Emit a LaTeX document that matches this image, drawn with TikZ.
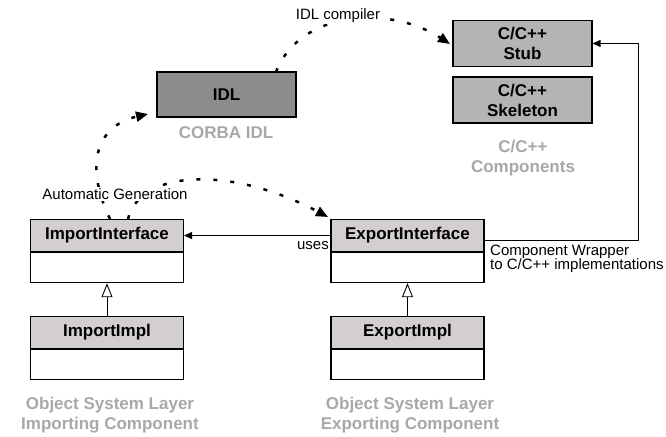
\documentclass[tikz,border=0pt]{standalone}
\usepackage{fontspec}
\setmainfont{Liberation Sans}
\usepackage{tikz}
\usetikzlibrary{positioning,arrows.meta}
\definecolor{hdrgray}{HTML}{D2CED2}
\definecolor{cgray}{HTML}{B4B4B4}
\definecolor{idlgray}{HTML}{8C8C8C}
\definecolor{lblgray}{HTML}{A8A8A8}
\tikzset{
  bigfont/.style ={font=\fontsize{17}{20}\selectfont\bfseries},
  hdr/.style     ={draw, fill=hdrgray, line width=1.1pt, minimum width=153pt,
                   minimum height=32pt, inner sep=0pt, bigfont},
  bdy/.style     ={draw, fill=white, line width=1.1pt, minimum width=153pt,
                   minimum height=30pt, inner sep=0pt},
  cbox/.style    ={draw, fill=cgray, line width=1.1pt, minimum width=139pt,
                   minimum height=46pt, inner sep=0pt, align=center, bigfont},
  glabel/.style  ={bigfont, text=lblgray, align=center},
  note/.style    ={font=\fontsize{15}{13.5}\selectfont\setlength{\lineskiplimit}{-20pt},
                   inner sep=1pt},
  solidarr/.style={-{Triangle[length=8pt,width=7pt]}, line width=0.9pt},
  inherit/.style ={-{Triangle[open,length=14pt,width=11pt]}, line width=0.9pt},
  genarr/.style  ={line width=2.5pt, dash pattern=on 4pt off 13pt,
                   -{Triangle[length=12pt,width=10pt]}},
}
% class box: name, x, y of top edge, label
\newcommand{\umlclass}[4]{%
  \node[hdr, anchor=north] (#1) at (#2,#3) {#4};
  \node[bdy, below=0pt of #1] (#1-body) {};}

\begin{document}
\begin{tikzpicture}[x=1pt,y=-1pt]
  \useasboundingbox (0,0) rectangle (666,436);

  % CORBA side
  \node[cbox, fill=idlgray, minimum height=45pt] (idl) at (226.5,94.5) {IDL};
  \node[glabel] (corba) at (226,133) {CORBA IDL};
  \node[cbox] (stub) at (522.5,43.5) {C/C++\\Stub};
  \node[cbox] (skel) at (522.5,100) {C/C++\\Skeleton};
  \node[glabel] (ccomp) at (523,158.5) {C/C++\\Components};

  % object system layer
  \umlclass{iif}{107}{219}{ImportInterface}
  \umlclass{iimpl}{107}{316}{ImportImpl}
  \umlclass{eif}{407.5}{219}{ExportInterface}
  \umlclass{eimpl}{407.5}{316}{ExportImpl}
  \node[glabel] (implayer) at (110,415) {Object System Layer\\Importing Component};
  \node[glabel] (explayer) at (410,415) {Object System Layer\\Exporting Component};

  \draw[inherit] (iimpl.north) -- (iif-body.south);
  \draw[inherit] (eimpl.north) -- (eif-body.south);
  \draw[solidarr] (eif.west) -- (iif.east);
  \node[note, anchor=east] (uses) at (330,246) {uses};

  \coordinate (wrapout) at (484,240);
  \coordinate (wrapcorner) at (638,240);
  \draw[solidarr] (wrapout) -- (wrapcorner) |- (stub.east);
  \node[note, anchor=north west, align=left] (wrap) at (489,244)
    {Component Wrapper\\to C/C++ implementations};

  % generated code paths
  \coordinate (gen1) at (110,219);
  \coordinate (gen2) at (128,219);
  \coordinate (idlout) at (276,72);
  \draw[genarr] (idlout) .. controls (300,10) and (390,5) .. (450,44);
  \draw[genarr] (gen1) .. controls (82,160) and (100,125) .. (148,114);
  \draw[genarr] (gen2) .. controls (140,170) and (230,165) .. (328,217);
  \node[note, fill=white] (idlc) at (338,16) {IDL compiler};
  \node[note, fill=white] (autogen) at (115,194) {Automatic Generation};
\end{tikzpicture}
\end{document}
